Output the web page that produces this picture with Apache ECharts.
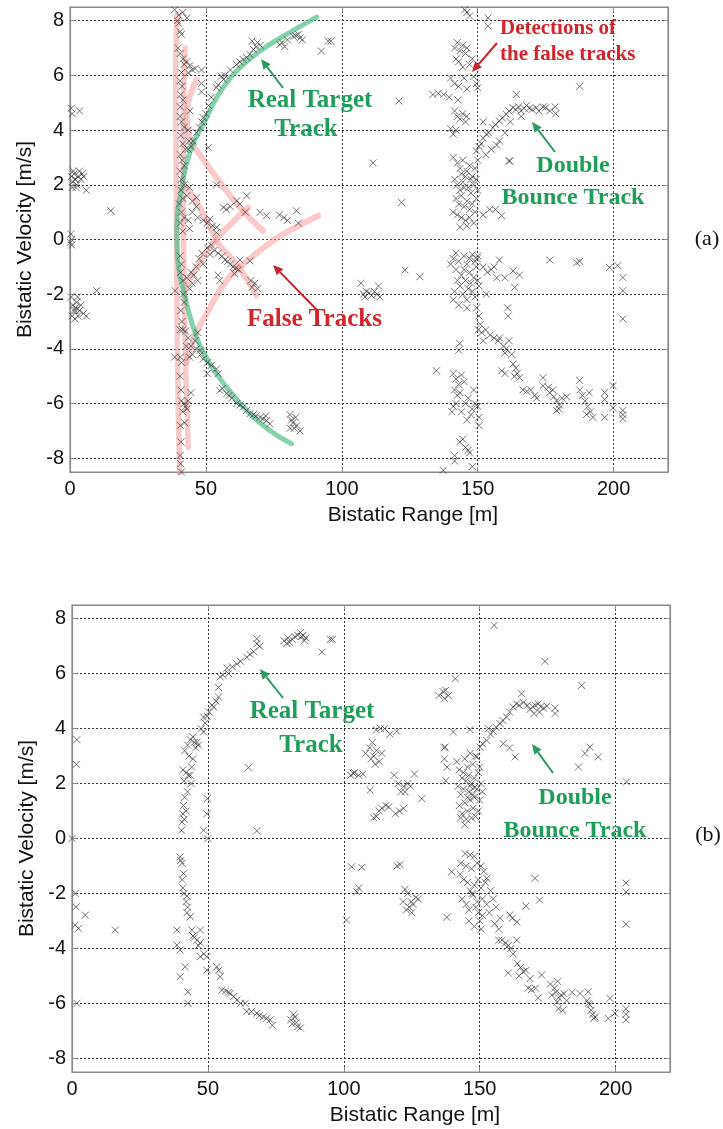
<!DOCTYPE html>
<html><head><meta charset="utf-8">
<script src="https://cdn.jsdelivr.net/npm/echarts@6/dist/echarts.min.js"></script>
<style>html,body{margin:0;padding:0;background:#fff}#chart{width:723px;height:1129px}</style>
</head><body><div id="chart"></div>
<script>
// ---------- tick labels ----------
const rangeTicks = [0, 50, 100, 150, 200];
const velocityTicks = [-8, -6, -4, -2, 0, 2, 4, 6, 8];

// ---------- (a) detections ----------
const aLeftClutter = [
 [0.5,4.8],[0.8,4.6],[3.5,4.7],
 [0.5,2.3],[1,2.1],[1.5,2.4],[2,2.2],[2.5,2.0],[3,2.3],[3.5,2.5],[4,2.2],[5,2.3],[0.8,1.9],[1.2,2.5],[2.2,1.9],[6,1.8],[4.5,2.4],[1.8,2.2],
 [15,1.05],
 [0.3,0.2],[0.5,0],[0.2,-0.1],[0.6,-0.2],
 [0.5,-2.1],[1,-2.4],[1.5,-2.6],[2,-2.5],[2.5,-2.3],[3,-2.8],[3.5,-2.6],[4,-2.4],[5,-2.7],[0.8,-2.8],[1.8,-2.9],[2.8,-2.1],[6,-2.8],[2.2,-2.6],
 [9.8,-1.87]
];
const aVerticalBand = [
 [38.5,8.4],[40,8.2],[41.5,8.3],[43,8.1],[39.5,8.0],[40,7.9],[40.5,7.6],[41,7.5],[39.8,7.0],[40.5,6.8],[41.5,6.6],
 [42,6.4],[43,6.5],[44,6.35],[45,6.2],[46,6.25],[43.5,6.1],[48.4,6.2],[41,6.1],[40.5,5.8],[41.2,5.6],[40.8,5.3],
 [41.5,5.1],[40.6,4.85],[48.4,5.4],[48.4,5.7],[44.1,4.7],[40.5,4.5],[41,4.3],[42,4.1],[43.5,4.0],[40.8,3.8],[41.5,3.5],
 [42.5,3.3],[40.6,3.1],[41.3,2.9],[42,2.7],[43.8,3.6],[44.5,3.4],[50.9,3.36],[40.5,2.5],[41,2.2],[42,2.0],[40.8,1.8],
 [43,1.6],[44,1.9],[45,1.4],[41.5,1.5],[40.3,1.3],[41,1.0],[42,0.8],[40.6,0.6],[43.5,0.7],[44,0.4],[41.5,0.3],[45,1.0],
 [46.5,1.2],[47,0.8],
 [40.5,-0.6],[41,-0.9],[40.7,-1.2],[41.5,-1.5],[38.6,-1.87],[41.7,-2.0],[42,-2.3],[40.8,-2.6],[41.2,-3.0],[40.5,-3.3],
 [41.5,-3.3],[42.5,-3.35],[38.5,-4.3],[40.6,-4.3],[41,-4.5],[40.5,-5.0],[40.8,-5.5],[41,-5.9],[42,-6.0],[42.5,-6.1],
 [43,-6.2],[41.5,-6.3],[43.5,-5.9],[44.5,-5.6],[42.2,-6.7],[40.6,-6.8],[40.8,-7.4],[40.5,-7.9],[40.7,-8.2],[41,-8.5]
];
const aFalseTrackPts = [
 [46.6,1.53],[53.9,2.0],[56.4,1.17],[57.5,1.1],[61.3,1.41],[65,1.6],[64.5,1.0],[69.9,0.99],[72.3,0.87],[78.7,0.8],
 [80,0.7],[83.3,1.05],[84,0.6],[77,0.9],[62.5,1.3],[59,1.2],[49,0.7],[50.5,0.6],[51.5,0.75],[52.5,0.5],[54,0.45],[53.9,0.25],
 [43.5,-3.6],[44.5,-3.9],[45,-4.2],[46,-3.7],[47,-3.4],[44,-4.3],[46.5,-4.0],[48,-4.2],[42.8,-3.9],
 [44,-1.8],[45,-1.6],[45.5,-1.3],[46.5,-1.0],[47.5,-0.7],[48.5,-0.5],[49,-0.9],[44.5,-1.2],[47,-1.5],[43,-1.4],
 [50.5,-0.3],[52,-0.2],[53,-0.4],[54.5,-0.5],[51.5,-0.55],
 [56,-0.6],[57,-0.75],[58,-0.8],[59,-0.9],[60,-1.0],[61,-1.05],[62,-1.1],[62.5,-0.75],[60.5,-1.25],
 [66.2,-0.78],[55.1,-1.5],[54.5,-1.3],[66.5,-1.5],[68,-1.6],[69,-1.8],[67,-1.75]
];
const aRealTrack = [
 [43.5,3.3],[45.3,3.6],[46.5,3.9],[47.8,4.09],[48.5,4.3],[49,4.45],[50,4.6],[51,4.9],[52,5.2],[53.9,5.55],[54.5,5.65],
 [55.7,5.97],[57,6.0],[56.5,5.85],[59,6.2],[61.3,6.4],[62.5,6.5],[63.7,6.58],[65,6.65],[66.2,6.77],[67.5,6.95],[68.5,7.05],
 [69,7.2],[70,7.1],[67,7.25],[77.2,7.13],[78,7.2],[79,7.05],[80,7.3],[82.1,7.43],[83,7.45],[84.6,7.37],[85.5,7.3],[84,7.5],
 [95,7.25],[96,7.25],[92.5,6.89],
 [47.8,-4.06],[49,-4.37],[50.5,-4.5],[52,-4.6],[53.9,-4.73],[54.5,-4.9],[50.5,-4.9],[55.1,-5.52],[56,-5.45],[57.6,-5.64],
 [58.5,-5.7],[59.5,-5.8],[61.3,-6.0],[62.5,-6.05],[63.7,-6.13],[65,-6.25],[66.2,-6.37],[67.5,-6.4],[68.5,-6.45],[69.9,-6.5],
 [71,-6.55],[72.3,-6.62],[73.5,-6.74],[72,-6.45],[80.9,-6.4],[81.5,-6.6],[82,-6.7],[82.5,-6.9],[83.5,-6.8],[84.6,-7.0],[81,-6.9],[83,-6.5]
];
const aRightUpper = [
 [145.2,8.4],[147,8.17],[146,8.3],[153.8,8.1],[153.8,7.8],[141.5,7.0],[142.5,7.2],[143.5,6.9],[144.5,7.1],[145.5,6.8],[146,7.0],
 [142,6.6],[143,6.5],[147,6.4],[144.5,6.3],[148,6.6],[140,5.9],[141.5,5.7],[143,5.6],[145,5.9],[146,5.5],[148.5,5.95],[149.5,5.7],
 [150,5.55],[133.5,5.3],[135.5,5.35],[137.5,5.3],[139.5,5.2],[142.7,5.1],[141.5,4.7],[142.5,4.5],[143.5,4.4],[144.5,4.6],
 [145.5,4.3],[146,4.5],[140,4.05],[141,3.85],[142,4.0],[121,5.06],[187.5,5.6],[111.5,2.8],[122,1.35],[161.4,2.87],
 [141,3.0],[142.5,2.8],[143.5,2.6],[144.5,2.9],[146,2.5],[147,2.7],[148,2.3],[149,2.6],[150,2.9],[141.5,2.2],[142.5,2.0],
 [143.5,1.8],[144.5,2.1],[145.5,2.3],[146.5,1.9],[147.5,1.7],[148.5,2.0],[149.5,1.5],[142,1.5],[143,1.3],[144,1.6],[145,1.2],
 [146,1.4],[147,1.1],[148,1.3],[141,1.0],[142.5,0.9],[144,0.8],[145.5,0.7],[147,0.8],[148.5,0.6],[146,0.5],[143.5,0.45],
 [149,1.0],[145,1.9],[147.5,2.2],[144,2.4],[149.5,2.2],[150,1.8],[154.4,1.1],[156.5,1.1],[158.8,0.87],[152,0.9]
];
const aDoubleBounceUpper = [
 [149.5,3.24],[150.5,3.4],[151.3,3.5],[152,3.7],[153.2,3.85],[154,3.9],[155.6,4.09],[156.5,4.2],[158,4.33],[159,4.45],
 [160.5,4.58],[161.5,4.7],[163,4.82],[164,4.75],[165,4.85],[166,4.7],[167,4.8],[168,4.9],[169,4.8],[170,4.75],[171.5,4.82],
 [172.5,4.7],[174,4.85],[175,4.82],[176.5,4.7],[178.7,4.6],[178.5,4.85],[164.2,5.3],[158,3.6],[157,3.45],[155,3.3],
 [153,3.1],[161.8,2.87],[160,3.9],[162,4.3],[166,4.5],[152,4.3]
];
const aRightLower = [
 [107,-1.6],[108,-2.0],[109,-1.9],[110,-1.95],[111,-2.05],[112,-1.9],[113,-2.0],[114,-2.1],[113.5,-1.7],[108.5,-2.1],
 [123.2,-1.12],[128.7,-1.36],
 [140,-0.9],[141,-0.7],[142,-1.1],[143,-0.8],[144,-1.3],[145,-0.6],[146,-0.9],[147,-1.2],[148,-0.55],[149,-0.8],[150,-0.6],
 [149.5,-1.0],[148.5,-1.4],[147.5,-1.6],[146.5,-1.8],[145.5,-1.5],[144.5,-2.0],[143.5,-1.7],[142.5,-1.5],[141.5,-1.9],
 [141,-2.2],[146,-2.2],[148,-1.9],[149,-2.1],[150,-1.5],[149.8,-0.7],[150.5,-1.7],[143,-2.4],[146,-2.5],[145,-1.1],
 [147,-0.7],[142,-0.5],
 [158,-0.75],[152,-1.0],[153.5,-1.2],[155,-1.1],[157,-1.4],[156,-1.0],[160,-1.4],[163,-1.15],[165.4,-1.3],[163.6,-1.75],[153.2,-2.0],
 [176.5,-0.75],[186.4,-0.85],[187.5,-0.8],[198.5,-1.02],[201.5,-0.95],[203.4,-1.39],[203.4,-1.87],[203.4,-2.9],
 [143.4,-3.8],[143,-4.05],[134.8,-4.8],[141,-4.9],[142,-5.1],[143,-5.3],[144,-4.95],[145,-5.2],[141.5,-5.5],[142.5,-5.7],
 [143.5,-5.6],[141,-6.1],[142,-6.0],[144,-6.3],[145.5,-6.0],[146.5,-5.8],[147.5,-6.4],[148,-6.2],[149,-6.0],[150,-6.1],
 [150.5,-6.5],[150.5,-6.8],[146,-6.6],[140.5,-6.3],[148.5,-5.5],
 [143.4,-7.4],[144.5,-7.3],[145.5,-7.6],[146.5,-7.7],[147,-7.8],[141.5,-7.9],[141.5,-8.1],[137.3,-8.44],[148,-8.3]
];
const aDoubleBounceLower = [
 [149.6,-2.5],[150.5,-2.8],[151,-3.1],[151.5,-3.4],[152,-3.7],[150.2,-3.3],[153,-3.3],[154.5,-3.5],[156,-3.6],[157.5,-3.7],
 [161,-2.5],[161.2,-2.8],[158,-3.6],[159.5,-3.9],[160.5,-4.0],[161.5,-3.7],[162.5,-4.2],[160,-4.15],[163,-4.55],[164,-4.7],
 [164.5,-4.9],[165.4,-5.05],[163.5,-5.0],[158.8,-4.8],[160,-4.9],[166.6,-5.5],[168,-5.55],[169.5,-5.5],[171,-5.7],[171.7,-5.8],
 [174,-5.05],[174,-5.35],[176,-5.4],[177.6,-5.5],[176.5,-5.6],[178,-5.75],[179,-5.9],[180,-6.05],[181,-5.8],[182.7,-5.75],
 [179,-6.25],[180,-6.2],[187.5,-5.15],[187.5,-5.5],[188.5,-5.7],[189.5,-5.9],[190.5,-6.1],[191.5,-6.3],[192.4,-6.5],[190,-6.4],
 [191,-5.6],[196.7,-5.6],[196.7,-5.85],[196.7,-6.5],[199.8,-5.34],[199.8,-6.15],[203.4,-6.25],[203.4,-6.4],[203.4,-6.55]
];

// ---------- (a) hand-drawn track overlays ----------
const aRealTargetCurve = [[81.5,-7.47],[73.5,-6.98],[66.2,-6.37],[57.6,-5.4],[51.5,-4.55],[46.6,-3.58],[42.3,-2.1],[39.8,-0.9],
 [39.3,0.3],[41.1,1.9],[44.7,3.36],[49.5,4.3],[53.9,5.18],[60.7,6.1],[69.9,6.89],[79.7,7.5],[90.7,8.13]];
const aFalseCurve1 = [[39.4,8.2],[38.9,6],[39,3],[39.2,0],[39.4,-3],[39.8,-6],[40.4,-8.7]];
const aFalseCurve2 = [[42.3,7.0],[41.8,5],[41.6,3],[41.8,0],[42.2,-3],[42.8,-5.5],[43.5,-7.6]];
const aFalseCurve3 = [[46.6,5.85],[43,4.6],[44,3.7],[47.8,3.1],[53.9,2.26],[62.5,1.17],[71,0.32]];
const aFalseCurve4 = [[42.9,1.9],[47.8,1.17],[51.5,0.44],[55,-0.2],[61.3,-0.9],[68.6,-2.05]];
const aFalseCurve5 = [[42.3,-1.8],[47,-0.95],[52.5,-0.15],[58,0.45],[65.5,1.17]];
const aFalseCurve6 = [[42.9,-4.5],[46,-3.5],[50.2,-2.72],[57.6,-1.5],[65,-0.8],[69.9,-0.41],[76,0.05],[82.1,0.4],[91.3,0.87]];

// ---------- (b) detections ----------
const bClutter = [
 [1.8,3.6],[1.6,2.7],[0,0],[1.2,-2.0],[1.5,-2.49],[4.9,-2.79],[1.2,-3.15],[2.4,-3.27],[15.9,-3.33],[1.8,-6.0],
 [64.9,2.58],[48.4,0.3],[49.6,0.9],[49.8,1.45],[50,0],[68,0.28],[38.6,-3.33],[38.6,-3.88],[39.8,-4.06],[39.8,-5.03],
 [41.6,-4.67],[42.6,-5.58],[42.6,-6.0],[47.2,-3.33]
];
const bRealTrack = [
 [40.3,0.3],[40.5,0.6],[40.8,0.9],[41,1.2],[41.5,1.5],[42.5,1.7],[41.2,2.1],[42,2.4],[42.8,2.3],[43.5,2.3],[43.8,2.0],
 [44,2.6],[44.5,2.9],[40.8,2.5],[41.5,3.2],[42.5,3.4],[43.5,3.6],[44.5,3.7],[45,3.5],[46,3.5],[45.5,3.3],[46.5,3.4],
 [43,3.0],[42,1.0],[41.3,0.7],
 [48.4,3.88],[48.4,4.42],[49.7,4.45],[50.5,4.6],[52.1,4.79],[53,5.0],[53.9,5.15],[53.9,5.5],[54.5,5.88],[55.5,5.95],
 [57.6,6.0],[57,6.2],[59,6.25],[60.7,6.36],[62,6.45],[64.3,6.6],[65.5,6.7],[66.8,6.8],[68,7.09],[68,7.27],[69,7.0],
 [47.5,4.0],[49,4.2],[51.5,4.85],
 [78,7.2],[79,7.1],[80,7.15],[81,7.25],[82,7.35],[83,7.4],[84,7.5],[85,7.4],[86,7.3],[85.5,7.2],[79.5,7.3],[84.5,7.35],
 [91.9,6.79],[95,7.25],[95.8,7.25],
 [39.8,-0.67],[40,-0.8],[40.5,-0.9],[41,-1.27],[40.5,-1.5],[40.8,-1.8],[41.2,-2.0],[42.3,-2.1],[42,-2.3],[42.5,-2.5],
 [42.3,-2.7],[43.5,-2.85],[44.1,-3.33],[44.5,-3.55],[46,-3.7],[47.2,-3.8],[45,-3.6],[46.5,-3.9],[47.2,-4.3],[48.5,-4.2],
 [49.6,-4.3],[49.6,-4.79],[53.3,-4.67],[54,-4.8],[54.5,-5.03],[55.1,-5.52],[56.5,-5.55],[57.5,-5.6],[58.2,-5.64],
 [59.5,-5.75],[60.7,-5.88],[62,-6.0],[63.7,-6.0],[64.3,-6.3],[66,-6.3],[68,-6.36],[69,-6.45],[70.4,-6.49],[71.5,-6.55],
 [72.9,-6.6],[73.7,-6.8],[80.5,-6.6],[81,-6.75],[81.5,-6.4],[82,-6.5],[83,-6.85],[84,-6.9],[82.5,-6.7]
];
const bMiddle = [
 [103.5,2.37],[155.3,7.76],[174,6.45],[187.5,5.57],[141,5.82],[135,5.2],[136.5,5.35],[137.5,5.4],[138.5,5.2],[137,5.1],
 [112,3.95],[113.5,4.0],[115,4.0],[117,3.8],[119.5,3.9],[108,3.1],[109.5,3.3],[110.5,3.5],[111,3.0],[112,3.2],[113,2.8],
 [114,3.1],[111.5,2.7],[110,2.9],[102.5,2.3],[104,2.4],[105.5,2.3],[107,2.35],[109.7,1.76],[118.5,2.3],[120,2.0],[122,1.9],
 [123.5,2.0],[124.5,1.9],[126,2.35],[121,1.7],[122.5,1.7],[128.7,1.45],[111,0.75],[112,0.8],[113,1.0],[114,1.1],[115.5,1.2],
 [116.5,1.15],[119,0.9],[120.5,1.0],[122,1.1],[137,3.3],[137,2.9],[138,2.6],[137.5,2.1],[140.3,3.88],[146.4,3.96],[137.2,3.33],
 [101,-2.97],[102.9,-1.03],[104.8,-1.94],[106.6,-1.05],[105.5,-1.8],[119.6,-1.0],[120.7,-0.95],[121.8,-2.3],[122.5,-1.85],
 [123.5,-2.0],[124,-2.5],[124.8,-2.3],[125.5,-2.4],[126.5,-2.15],[127.4,-2.2],[123,-2.6],[125,-2.7],[137.9,-2.87],[139.7,-1.21]
];
const bRightCluster = [
 [141.6,2.8],[142.5,2.5],[143.5,2.2],[144.5,2.9],[145.5,2.6],[146.5,3.1],[147.5,2.7],[148.5,3.0],[149.5,2.4],[150.5,2.0],
 [142,1.9],[143,1.6],[144,1.8],[145,2.1],[146,1.7],[147,2.0],[148,1.5],[149,1.8],[150,1.4],[142.5,1.2],[143.5,0.9],
 [144.5,1.3],[145.5,1.0],[146.5,1.4],[147.5,1.1],[148.5,0.8],[149.5,1.0],[145,0.7],[147,0.75],[143,0.75],[146,2.3],
 [148,2.2],[144,2.4],[150,2.6],[151,1.7],[146.5,1.9],[147.5,1.6],[145.5,1.5],[148,1.85],[144.5,0.5],
 [144.6,-0.55],[146.5,-0.6],[148,-0.65],[143,-0.9],[145,-1.0],[147,-1.1],[149,-0.9],[150.5,-1.0],[151.5,-1.2],[142.8,-1.3],
 [144,-1.5],[145.5,-1.6],[146.5,-1.9],[147.2,-2.0],[147.5,-2.05],[148,-1.7],[149.5,-1.5],[150.5,-1.8],[151,-2.2],[152,-1.6],
 [143.5,-2.2],[145,-2.4],[146,-2.6],[148.5,-2.5],[149.5,-2.7],[150,-3.0],[151,-2.8],[152.6,-2.4],[148,-3.2],[150.5,-3.3],
 [146,-3.0],[149,-2.3]
];
const bDoubleBounceUpper = [
 [148.9,2.97],[150.1,3.33],[151,3.45],[152.6,3.57],[153.2,4.0],[154,3.8],[155,3.9],[156,4.05],[157.5,4.18],[158.5,4.3],
 [159.9,4.42],[161,4.6],[162.3,4.79],[163.5,4.9],[165.4,5.27],[164.5,4.85],[166,4.95],[167.5,4.85],[168.5,4.7],[169.5,4.8],
 [170.5,4.85],[171.5,4.9],[172.5,4.8],[173.5,4.75],[174.7,4.82],[172,4.6],[170,4.55],[177.7,4.55],[177.7,4.75],[158.7,3.45],
 [161,3.3],[163,2.97],[186.3,2.6],[188.7,3.1],[190.5,3.33],[193.6,2.97],[204,2.06]
];
const bDoubleBounceLower = [
 [152.6,-1.45],[154,-1.9],[155,-2.2],[156,-2.5],[157.5,-2.9],[153.5,-2.7],[155.5,-3.1],[157,-3.3],[157,-3.7],
 [170.3,-1.45],[172,-2.24],[167,-2.46],[161.1,-2.78],[162,-2.9],[163.7,-3.04],[158.2,-3.7],[159.5,-3.8],[160.5,-3.9],
 [161.5,-4.0],[162.3,-4.2],[163.6,-3.7],[160,-3.95],
 [163.8,-4.55],[165,-4.7],[166,-4.85],[167,-4.8],[168.5,-5.1],[164.5,-5.0],[160.5,-4.9],[167.8,-5.45],[169,-5.5],
 [170.5,-5.45],[171.5,-5.8],[172.8,-4.97],
 [176,-5.3],[177.5,-5.45],[178,-5.6],[179,-5.8],[180,-5.7],[181,-5.65],[182,-5.9],[179,-6.2],[180.5,-6.25],[184,-5.6],
 [178.5,-5.95],[176.5,-5.7],[178.6,-5.2],
 [186.9,-5.64],[189.9,-5.58],[189.5,-5.9],[190.5,-6.05],[191,-6.25],[191.5,-6.4],[192,-6.55],[192.5,-6.5],[190,-6.0],
 [197.3,-6.55],[197.9,-5.82],[199.7,-6.36],[203.8,-6.2],[203.8,-6.4],[203.8,-6.6],[203.8,-1.62],[203.8,-1.95],[203.8,-3.12]
];

// ---------- styles ----------
const SANS = 'Liberation Sans, Arial, sans-serif';
const SERIF = 'Liberation Serif, Times New Roman, serif';
const GREEN = '#1f9e5a';
const RED = '#d3232b';
const BOX = '#8a8a8a';
const PINK = 'rgba(242,150,150,0.5)';

function xAxisDef(gi, pos, main) {
  return {
    type: 'value', gridIndex: gi, position: pos, min: 0, max: 220, interval: 50,
    name: main ? 'Bistatic Range [m]' : '', nameLocation: 'middle', nameGap: 33,
    nameTextStyle: { fontFamily: SANS, fontSize: 21, color: '#111', padding: [0, 0, 0, 88] },
    axisLine: { show: true, onZero: false, lineStyle: { color: BOX, width: 1.2 } },
    axisTick: { show: true, inside: true, length: 5, lineStyle: { color: BOX } },
    axisLabel: { show: main, margin: 7, fontFamily: SANS, fontSize: 20, color: '#111',
      formatter: v => rangeTicks.includes(v) ? String(v) : '' },
    splitLine: { show: main, lineStyle: { color: '#333', type: [2, 2], width: 1 } }
  };
}
function yAxisDef(gi, pos, main) {
  return {
    type: 'value', gridIndex: gi, position: pos, min: -8.5, max: 8.5, splitNumber: 8,
    name: main ? 'Bistatic Velocity [m/s]' : '', nameLocation: 'middle', nameGap: 34,
    nameTextStyle: { fontFamily: SANS, fontSize: 21, color: '#111' },
    axisLine: { show: true, onZero: false, lineStyle: { color: BOX, width: 1.2 } },
    axisTick: { show: true, inside: true, length: 5, lineStyle: { color: BOX } },
    axisLabel: { show: main, margin: 6, fontFamily: SANS, fontSize: 20, color: '#111',
      formatter: v => velocityTicks.includes(v) ? String(v) : '' },
    splitLine: { show: main, lineStyle: { color: '#333', type: [2, 2], width: 1 } }
  };
}

const XSYM = 'path://M0,0L10,10M10,0L0,10';
function scatter(gi, data) {
  return { type: 'scatter', xAxisIndex: gi, yAxisIndex: gi, data: data, symbol: XSYM, symbolSize: 7,
    itemStyle: { color: 'none', borderColor: '#3c3c3c', borderWidth: 0.9, opacity: 0.8 }, z: 5, silent: true };
}
function overlay(data, color, width) {
  return { type: 'line', xAxisIndex: 0, yAxisIndex: 0, data: data, smooth: 0.45, symbol: 'none',
    lineStyle: { color: color, width: width, cap: 'round' }, z: 3, silent: true };
}

function arrow(tail, tip, color) {
  const dx = tip[0] - tail[0], dy = tip[1] - tail[1];
  const L = Math.hypot(dx, dy), ux = dx / L, uy = dy / L;
  const hl = 10, hw = 4.5;
  const bx = tip[0] - ux * hl, by = tip[1] - uy * hl;
  return [
    { type: 'line', shape: { x1: tail[0], y1: tail[1], x2: bx, y2: by }, style: { stroke: color, lineWidth: 2 }, z: 20 },
    { type: 'polygon', shape: { points: [tip, [bx - uy * hw, by + ux * hw], [bx + uy * hw, by - ux * hw]] },
      style: { fill: color }, z: 20 }
  ];
}
function label(x, y, text, color, size, align, lh) {
  return { type: 'text', x: x, y: y, z: 21,
    style: { text: text, fill: color, font: 'bold ' + size + 'px ' + SERIF, textAlign: align || 'center',
      textVerticalAlign: 'middle', lineHeight: lh || size } };
}

const chart = echarts.init(document.getElementById('chart'), null, { renderer: 'canvas' });
chart.setOption({
  animation: false,
  backgroundColor: '#fff',
  grid: [
    { left: 70, top: 7, width: 598, height: 465, show: true, borderColor: BOX, borderWidth: 1.2 },
    { left: 72, top: 605, width: 598, height: 467, show: true, borderColor: BOX, borderWidth: 1.2 }
  ],
  xAxis: [xAxisDef(0, 'bottom', true), xAxisDef(1, 'bottom', true), xAxisDef(0, 'top', false), xAxisDef(1, 'top', false)],
  yAxis: [yAxisDef(0, 'left', true), yAxisDef(1, 'left', true), yAxisDef(0, 'right', false), yAxisDef(1, 'right', false)],
  series: [
    overlay(aFalseCurve1, PINK, 5.5),
    overlay(aFalseCurve2, PINK, 5.5),
    overlay(aFalseCurve3, PINK, 6),
    overlay(aFalseCurve4, PINK, 6),
    overlay(aFalseCurve5, PINK, 6),
    overlay(aFalseCurve6, PINK, 6),
    overlay(aRealTargetCurve, 'rgba(80,190,135,0.7)', 5),
    scatter(0, [].concat(aLeftClutter, aVerticalBand, aFalseTrackPts, aRealTrack, aRightUpper, aDoubleBounceUpper, aRightLower, aDoubleBounceLower)),
    scatter(1, [].concat(bClutter, bRealTrack, bMiddle, bRightCluster, bDoubleBounceUpper, bDoubleBounceLower))
  ],
  graphic: [].concat(
    [label(310, 101, 'Real Target', GREEN, 25), label(306, 130, 'Track', GREEN, 25)],
    arrow([283, 88], [261, 59], '#2e9a62'),
    [label(573, 166, 'Double', GREEN, 24), label(573, 198, 'Bounce Track', GREEN, 24)],
    arrow([555, 152], [532, 122], '#2e9a62'),
    [label(500, 29, 'Detections of', RED, 21, 'left'), label(500, 55, 'the false tracks', RED, 21, 'left')],
    arrow([497, 43], [472, 72], '#c8242c'),
    [label(247, 320, 'False Tracks', RED, 25, 'left')],
    arrow([317, 310], [273, 265], '#c8242c'),
    [{ type: 'text', x: 707, y: 239, style: { text: '(a)', fill: '#111', font: '22px ' + SERIF, textAlign: 'center', textVerticalAlign: 'middle' } }],
    [label(312, 712, 'Real Target', GREEN, 25), label(311, 746, 'Track', GREEN, 25)],
    arrow([283, 698], [260, 669], '#2e9a62'),
    [label(575, 798, 'Double', GREEN, 24), label(575, 831, 'Bounce Track', GREEN, 24)],
    arrow([553, 773], [532, 744], '#2e9a62'),
    [{ type: 'text', x: 708, y: 835, style: { text: '(b)', fill: '#111', font: '22px ' + SERIF, textAlign: 'center', textVerticalAlign: 'middle' } }]
  )
});
</script>
</body></html>
